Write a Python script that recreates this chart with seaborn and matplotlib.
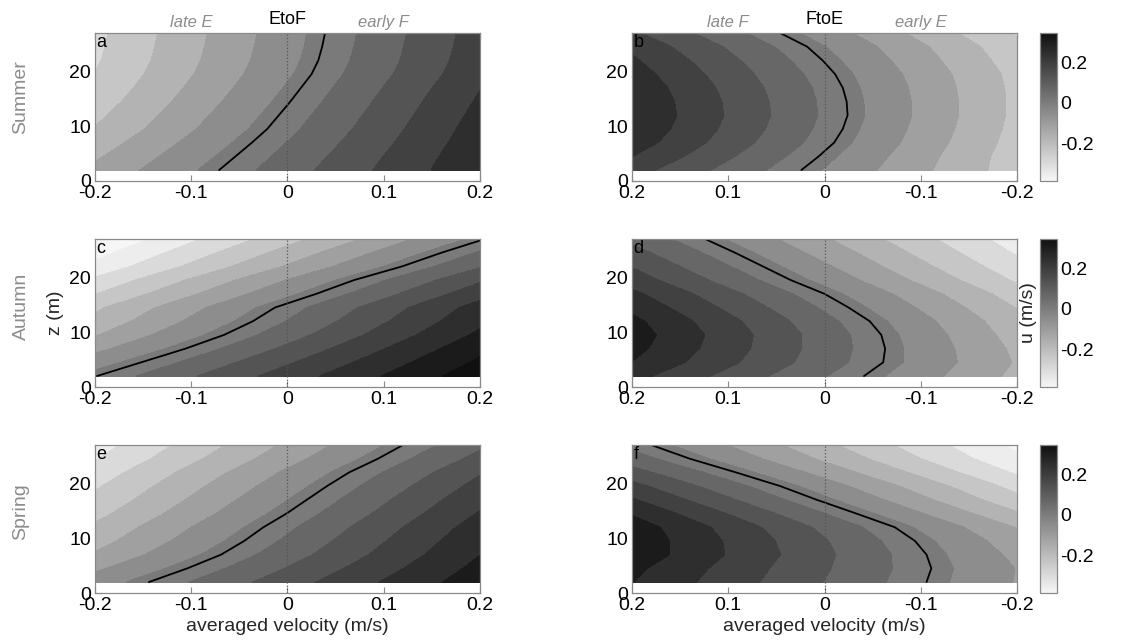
import numpy as np
import matplotlib
matplotlib.use("Agg")
import matplotlib.pyplot as plt
from matplotlib.colors import Normalize
from matplotlib.cm import ScalarMappable
import seaborn as sns

# ------------------------------
# DATA
# ------------------------------
# depth of the read-off nodes (m), bottom -> top
z_nodes = [2, 4.5, 7, 9.5, 12, 14.5, 17, 19.5, 22, 24.5, 27]
# span of averaged velocity in every panel (m/s)
vel_span = [-0.2, 0.2]

# averaged velocity where u = 0 (the black line), bottom -> top
zero_a = [-0.071, -0.054, -0.037, -0.021, -0.009, 0.003, 0.014, 0.025, 0.032, 0.036, 0.039]
zero_b = [0.024, 0.006, -0.010, -0.019, -0.024, -0.023, -0.019, -0.011, 0.002, 0.018, 0.046]
zero_c = [-0.198, -0.152, -0.106, -0.066, -0.036, -0.013, 0.030, 0.069, 0.119, 0.160, 0.205]
zero_d = [-0.041, -0.061, -0.063, -0.059, -0.047, -0.025, 0.000, 0.035, 0.064, 0.093, 0.124]
zero_e = [-0.144, -0.104, -0.069, -0.045, -0.025, -0.001, 0.020, 0.041, 0.064, 0.094, 0.120]
zero_f = [-0.106, -0.111, -0.106, -0.094, -0.073, -0.033, 0.008, 0.046, 0.092, 0.140, 0.180]

# change of u per unit averaged velocity at each depth
shear_a = [1.00, 1.04, 1.08, 1.12, 1.14, 1.16, 1.17, 1.17, 1.17, 1.17, 1.17]
shear_b = [1.05, 1.14, 1.20, 1.23, 1.24, 1.23, 1.21, 1.18, 1.16, 1.13, 1.10]
shear_c = [0.95, 1.00, 1.06, 1.10, 1.13, 1.15, 1.16, 1.16, 1.15, 1.13, 1.10]
shear_d = [1.00, 1.07, 1.14, 1.20, 1.20, 1.18, 1.17, 1.16, 1.15, 1.13, 1.10]
shear_e = [0.92, 0.98, 1.04, 1.08, 1.10, 1.12, 1.13, 1.13, 1.13, 1.12, 1.10]
shear_f = [0.92, 0.95, 1.05, 1.10, 1.15, 1.18, 1.18, 1.16, 1.14, 1.10, 1.05]

seasons = ["Summer", "Autumn", "Spring"]
letters = ["a", "b", "c", "d", "e", "f"]
phase_titles = ["EtoF", "FtoE"]
phase_sides = [["late E", "early F"], ["late F", "early E"]]
vel_ticks = [-0.2, -0.1, 0, 0.1, 0.2]
z_ticks = [0, 10, 20]
u_ticks = [-0.2, 0, 0.2]
u_lims = [-0.385, 0.345]

panels = [(zero_a, shear_a), (zero_b, shear_b),
          (zero_c, shear_c), (zero_d, shear_d),
          (zero_e, shear_e), (zero_f, shear_f)]

# ------------------------------
# STYLE
# ------------------------------
sns.set_theme(style="ticks")
plt.rcParams["font.family"] = ["Liberation Sans", "DejaVu Sans"]
plt.rcParams["axes.unicode_minus"] = False

frame = "#8a8a8a"
soft = "#8c8c8c"
cmap = sns.blend_palette(["#f6f6f6", "#101010"], as_cmap=True)
levels = np.linspace(-0.385, 0.341, 13)

W, H = 1126, 641
fig = plt.figure(figsize=(W / 100, H / 100), dpi=100)
fig.patch.set_facecolor("white")

lefts = [95, 632]
tops = [33, 239, 445]
ax_w, ax_h = 385, 148
cb_left, cb_w = 1040, 17


def fmt(v):
    return "0" if abs(v) < 1e-9 else ("%g" % v)


for i, (zero, shear) in enumerate(panels):
    row, col = divmod(i, 2)
    ax = fig.add_axes([lefts[col] / W, 1 - (tops[row] + ax_h) / H, ax_w / W, ax_h / H])

    z = np.array(z_nodes)
    x = np.array(vel_span)
    u = np.array(shear)[:, None] * (x[None, :] - np.array(zero)[:, None])

    ax.contourf(x, z, u, levels=levels, cmap=cmap,
                norm=Normalize(vmin=u_lims[0], vmax=u_lims[1]), extend="both")
    sns.lineplot(x=zero, y=z_nodes, orient="y", sort=False, estimator=None,
                 color="black", lw=1.3, ax=ax)
    ax.axvline(0, color="#555555", ls=":", lw=0.9)

    ax.set_ylim(0, 27)
    if col == 0:
        ax.set_xlim(-0.2, 0.2)
    else:
        ax.set_xlim(0.2, -0.2)
    ax.set_xticks(vel_ticks)
    ax.set_xticklabels([fmt(v) for v in vel_ticks])
    ax.set_yticks(z_ticks)
    ax.set_yticklabels([fmt(v) for v in z_ticks])
    ax.set_xlabel("")
    ax.set_ylabel("")
    ax.tick_params(direction="in", length=4, width=0.8, color=frame,
                   labelcolor="black", labelsize=14, top=True, right=True, pad=3)
    for s in ax.spines.values():
        s.set_color(frame)
        s.set_linewidth(0.9)

    ax.text(0.004, 0.995, letters[i], transform=ax.transAxes, ha="left", va="top",
            fontsize=13, color="black")

    if row == 0:
        tr = ax.get_xaxis_transform()
        ax.text(0, 1.06, phase_titles[col], transform=tr, ha="center",
                va="baseline", fontsize=13, color="black")
        side_x = [-0.1, 0.1] if col == 0 else [0.1, -0.1]
        for sx, lab in zip(side_x, phase_sides[col]):
            ax.text(sx, 1.04, lab, transform=tr, ha="center", va="baseline",
                    fontsize=12, color=soft, style="italic")
    if row == 2:
        ax.set_xlabel("averaged velocity (m/s)", fontsize=14, labelpad=3)
    if row == 1 and col == 0:
        ax.set_ylabel("z (m)", fontsize=14, labelpad=4)

    if col == 1:
        cax = fig.add_axes([cb_left / W, 1 - (tops[row] + ax_h) / H, cb_w / W, ax_h / H])
        sm = ScalarMappable(norm=Normalize(vmin=u_lims[0], vmax=u_lims[1]), cmap=cmap)
        cb = fig.colorbar(sm, cax=cax)
        cb.set_ticks(u_ticks, labels=[fmt(v) for v in u_ticks])
        cb.minorticks_off()
        cb.outline.set_edgecolor(frame)
        cb.outline.set_linewidth(0.9)
        cax.tick_params(direction="in", length=3, color=frame, labelcolor="black",
                        labelsize=14, left=True, right=True, pad=2)
        if row == 1:
            cax.yaxis.set_label_position("left")
            cax.set_ylabel("u (m/s)", fontsize=14, labelpad=2)

row_centers = [97, 306, 512]
for name, yc in zip(seasons, row_centers):
    fig.text(21 / W, 1 - yc / H, name, rotation=90, ha="center", va="center",
             fontsize=14, color=soft)

fig.savefig("out.png", dpi=100, facecolor="white")
